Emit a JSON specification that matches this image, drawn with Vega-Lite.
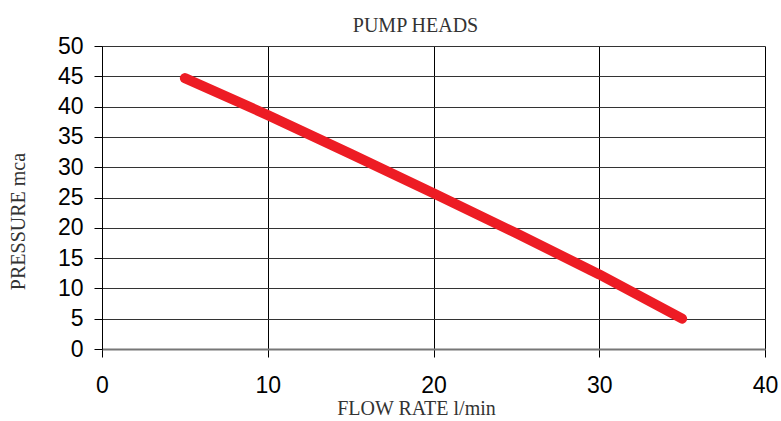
{
  "$schema": "https://vega.github.io/schema/vega-lite/v6.json",
  "autosize": {"type": "none"},
  "width": 663,
  "height": 303,
  "padding": {"left": 102, "top": 46, "right": 16, "bottom": 72},
  "background": "white",
  "title": {
    "text": "PUMP HEADS",
    "font": "Liberation Serif",
    "fontSize": 20,
    "fontWeight": "normal",
    "color": "#333333",
    "anchor": "middle",
    "dx": -18,
    "dy": 18,
    "offset": 17
  },
  "data": {
    "values": [
      {"flow": 5, "pressure": 44.7},
      {"flow": 10, "pressure": 38.6},
      {"flow": 15, "pressure": 32.2},
      {"flow": 20, "pressure": 25.7},
      {"flow": 25, "pressure": 19.1},
      {"flow": 30, "pressure": 12.3},
      {"flow": 35, "pressure": 5.0}
    ]
  },
  "mark": {"type": "line", "color": "#ED1C24", "strokeWidth": 10, "strokeCap": "round", "strokeJoin": "round"},
  "encoding": {
    "x": {
      "field": "flow",
      "type": "quantitative",
      "scale": {"domain": [0, 40], "nice": false, "zero": false},
      "axis": {
        "title": "FLOW RATE l/min",
        "titleFont": "Liberation Serif",
        "titleFontSize": 20,
        "titleFontWeight": "normal",
        "titleColor": "#333333",
        "titleX": 314,
        "titleY": 59,
        "titleBaseline": "middle",
        "titleAlign": "center",
        "values": [0, 10, 20, 30, 40],
        "labelFlush": false,
        "labelOverlap": false,
        "labelFont": "Liberation Sans",
        "labelFontSize": 23,
        "labelColor": "#000000",
        "labelPadding": 17,
        "tickSize": 8,
        "tickColor": "#000000",
        "domainColor": "#777777",
        "domainWidth": 2,
        "grid": true,
        "gridColor": "#000000",
        "gridWidth": 1,
        "gridOpacity": 1
      }
    },
    "y": {
      "field": "pressure",
      "type": "quantitative",
      "scale": {"domain": [0, 50], "nice": false},
      "axis": {
        "title": "PRESSURE mca",
        "titleFont": "Liberation Serif",
        "titleFontSize": 20,
        "titleFontWeight": "normal",
        "titleColor": "#333333",
        "titleX": -84,
        "titleY": 175,
        "titleAngle": -90,
        "titleAlign": "center",
        "titleBaseline": "middle",
        "values": [0, 5, 10, 15, 20, 25, 30, 35, 40, 45, 50],
        "labelFlush": false,
        "labelOverlap": false,
        "labelFont": "Liberation Sans",
        "labelFontSize": 23,
        "labelColor": "#000000",
        "labelPadding": 11,
        "tickSize": 8,
        "tickColor": "#000000",
        "domainColor": "#000000",
        "domainWidth": 1,
        "grid": true,
        "gridColor": "#333333",
        "gridWidth": 1,
        "gridOpacity": 1
      }
    }
  },
  "config": {"view": {"stroke": null}}
}
